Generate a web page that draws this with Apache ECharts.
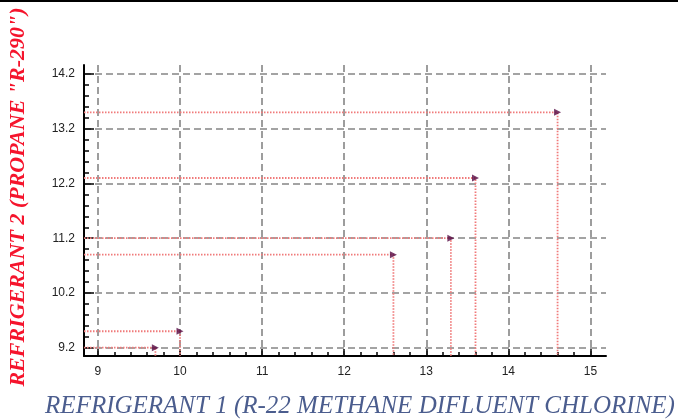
<!DOCTYPE html>
<html>
<head>
<meta charset="utf-8">
<script src="https://cdn.jsdelivr.net/npm/echarts@6/dist/echarts.min.js"></script>
<style>
html,body{margin:0;padding:0;background:#fff;}
#chart{width:678px;height:419px;}
</style>
</head>
<body>
<div id="chart"></div>
<script>
// ---- data ----
var refrigerant1 = [9.7, 10.0, 12.6, 13.3, 13.6, 14.6];
var refrigerant2 = [9.2, 9.5, 10.9, 11.2, 12.3, 13.5];
var xTickValues = [9, 10, 11, 12, 13, 14, 15];
var yTickValues = [9.2, 10.2, 11.2, 12.2, 13.2, 14.2];
var xTitle = 'REFRIGERANT 1 (R-22 METHANE DIFLUENT CHLORINE)';
var yTitle = 'REFRIGERANT 2 (PROPANE "R-290")';

// axis extents
var X_MIN = 8.83, X_MAX = 15.19;
var Y_MIN = 9.048, Y_MAX = 14.365;

function minorValues(lo, hi, step) {
  var out = [];
  var start = Math.ceil(lo / step - 1e-9);
  var end = Math.floor(hi / step + 1e-9);
  for (var k = start; k <= end; k++) out.push(+(k * step).toFixed(4));
  return out;
}
var xMinor = minorValues(X_MIN, X_MAX, 0.2);
var yMinor = minorValues(Y_MIN, Y_MAX, 0.2);

var chart = echarts.init(document.getElementById('chart'), null, {renderer: 'canvas'});

var labelFont = {fontFamily: 'Liberation Sans, Arial, sans-serif', fontSize: 12, color: '#222'};
var gridLine = {show: true, lineStyle: {color: '#858585', width: 1.6, type: [7, 4]}};

var series = [];
refrigerant1.forEach(function (x, i) {
  var y = refrigerant2[i];
  series.push({
    type: 'line',
    xAxisIndex: 0, yAxisIndex: 0,
    data: [[X_MIN, y], [x, y], [x, Y_MIN]],
    symbol: 'none',
    silent: true,
    animation: false,
    lineStyle: {color: '#f07a7a', width: 1.8, type: [1.5, 1.5]},
    z: 3
  });
});
series.push({
  type: 'scatter',
  xAxisIndex: 0, yAxisIndex: 0,
  data: refrigerant1.map(function (x, i) { return [x, refrigerant2[i]]; }),
  symbol: 'triangle',
  symbolRotate: -90,
  symbolSize: 7,
  itemStyle: {color: '#560a44'},
  animation: false,
  z: 5
});

chart.setOption({
  animation: false,
  grid: {left: 84, top: 65, right: 72, bottom: 63, containLabel: false},
  xAxis: [{
    type: 'value', min: X_MIN, max: X_MAX,
    axisLine: {show: true, onZero: false, lineStyle: {color: '#000', width: 2}},
    axisTick: {show: true, inside: true, length: 7, customValues: xTickValues, lineStyle: {color: '#000', width: 1.5}},
    axisLabel: Object.assign({customValues: xTickValues, margin: 10}, labelFont),
    splitLine: gridLine
  }, {
    type: 'value', min: X_MIN, max: X_MAX, position: 'bottom',
    axisLine: {show: false},
    axisTick: {show: true, inside: true, length: 4, customValues: xMinor, lineStyle: {color: '#000', width: 1.5}},
    axisLabel: {show: false},
    splitLine: {show: false}
  }],
  yAxis: [{
    type: 'value', min: Y_MIN, max: Y_MAX,
    axisLine: {show: true, onZero: false, lineStyle: {color: '#000', width: 2}},
    axisTick: {show: true, inside: true, length: 10, customValues: yTickValues, lineStyle: {color: '#000', width: 1.5}},
    axisLabel: Object.assign({customValues: yTickValues, margin: 9, formatter: function (v) { return (+v).toFixed(1); }}, labelFont),
    splitLine: gridLine
  }, {
    type: 'value', min: Y_MIN, max: Y_MAX, position: 'left',
    axisLine: {show: false},
    axisTick: {show: true, inside: true, length: 5, customValues: yMinor, lineStyle: {color: '#000', width: 1.5}},
    axisLabel: {show: false},
    splitLine: {show: false}
  }],
  graphic: [
    {type: 'rect', left: 0, top: 0, shape: {width: 678, height: 2}, style: {fill: '#000'}, silent: true},
    {type: 'text', x: 18, y: 197, rotation: Math.PI / 2,
     style: {text: yTitle, fill: '#f5142c', font: 'italic bold 22px "Liberation Serif", "Times New Roman", serif',
             textAlign: 'center', textVerticalAlign: 'middle'}, silent: true},
    {type: 'text', x: 360, y: 406,
     style: {text: xTitle, fill: '#4b5d8e', font: 'italic 25px "Liberation Serif", "Times New Roman", serif',
             textAlign: 'center', textVerticalAlign: 'middle'}, silent: true}
  ],
  series: series
});
</script>
</body>
</html>
